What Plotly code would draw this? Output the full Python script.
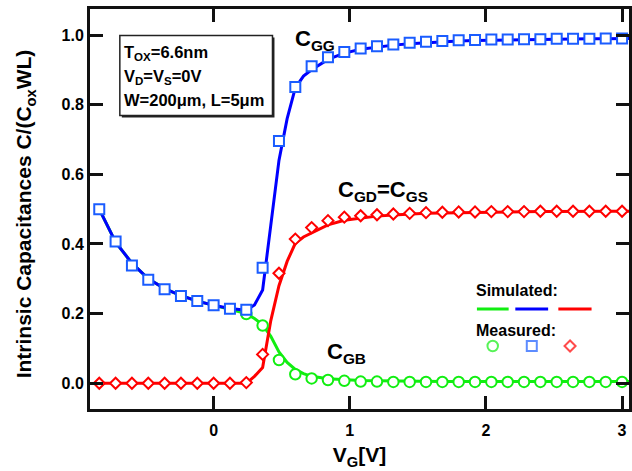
import plotly.graph_objects as go

# ---- measured data (step 0.12 V) ----
vg_meas = [-0.84, -0.72, -0.60, -0.48, -0.36, -0.24, -0.12, 0.00, 0.12, 0.24,
           0.36, 0.48, 0.60, 0.72, 0.84, 0.96, 1.08, 1.20, 1.32, 1.44, 1.56,
           1.68, 1.80, 1.92, 2.04, 2.16, 2.28, 2.40, 2.52, 2.64, 2.76, 2.88, 3.00]
cgg_meas = [0.500, 0.407, 0.338, 0.297, 0.270, 0.251, 0.236, 0.224, 0.214, 0.211,
            0.332, 0.696, 0.851, 0.910, 0.936, 0.951, 0.961, 0.968, 0.973, 0.978,
            0.981, 0.983, 0.985, 0.986, 0.987, 0.987, 0.988, 0.988, 0.989, 0.989,
            0.989, 0.990, 0.990]
cgd_meas = [0.000, 0.000, 0.000, 0.000, 0.000, 0.000, 0.000, 0.000, 0.000, 0.002,
            0.083, 0.316, 0.414, 0.447, 0.467, 0.477, 0.481, 0.484, 0.486, 0.488,
            0.490, 0.491, 0.492, 0.492, 0.493, 0.493, 0.493, 0.494, 0.494, 0.494,
            0.494, 0.494, 0.494]
vg_cgb_meas = vg_meas[9:]
cgb_meas = [0.199, 0.166, 0.067, 0.026, 0.014, 0.0095, 0.007, 0.005, 0.005, 0.004,
            0.004, 0.004, 0.004, 0.004, 0.004, 0.004, 0.004, 0.004, 0.004, 0.004,
            0.004, 0.004, 0.004, 0.004]

# ---- simulated data ----
vg_sim = [-0.84, -0.72, -0.60, -0.48, -0.36, -0.24, -0.12, 0.00, 0.12, 0.24,
          0.30, 0.36, 0.42, 0.48, 0.54, 0.60, 0.66, 0.72, 0.84, 0.96, 1.08,
          1.20, 1.32, 1.44, 1.56, 1.68, 1.80, 1.92, 2.04, 2.16, 2.28, 2.40,
          2.52, 2.64, 2.76, 2.88, 3.00, 3.06]
cgg_sim = [0.500, 0.405, 0.345, 0.300, 0.272, 0.252, 0.236, 0.224, 0.215, 0.210,
           0.225, 0.268, 0.454, 0.640, 0.760, 0.848, 0.882, 0.900, 0.930, 0.948,
           0.959, 0.966, 0.971, 0.975, 0.978, 0.981, 0.983, 0.984, 0.985, 0.986,
           0.987, 0.987, 0.988, 0.988, 0.989, 0.989, 0.990, 0.990]
cgb_sim = [0.500, 0.405, 0.345, 0.300, 0.272, 0.252, 0.236, 0.224, 0.213, 0.200,
           0.186, 0.168, 0.135, 0.090, 0.060, 0.040, 0.028, 0.020, 0.013, 0.010,
           0.008, 0.007, 0.006, 0.006, 0.005, 0.005, 0.005, 0.005, 0.005, 0.005,
           0.005, 0.005, 0.005, 0.005, 0.005, 0.005, 0.005, 0.005]
cgd_sim = [0.000, 0.000, 0.000, 0.000, 0.000, 0.000, 0.000, 0.000, 0.000, 0.000,
           0.020, 0.045, 0.180, 0.280, 0.350, 0.402, 0.420, 0.432, 0.455, 0.468,
           0.475, 0.480, 0.483, 0.486, 0.488, 0.489, 0.490, 0.491, 0.492, 0.492,
           0.493, 0.493, 0.493, 0.494, 0.494, 0.494, 0.494, 0.494]

# legend key positions (data units)
leg_marker_x = [2.05, 2.337, 2.618]
leg_marker_y = [0.107, 0.107, 0.107]

GREEN = "#11ee11"
BLUE_LINE = "#0000ff"
BLUE_MK = "#1a5cff"
RED = "#ff0000"
FONT = "Liberation Sans, Arial, sans-serif"

fig = go.Figure()
# simulated lines
fig.add_trace(go.Scatter(x=vg_sim, y=cgb_sim, mode="lines", line=dict(color=GREEN, width=3)))
fig.add_trace(go.Scatter(x=vg_sim, y=cgg_sim, mode="lines", line=dict(color=BLUE_LINE, width=3)))
fig.add_trace(go.Scatter(x=vg_sim, y=cgd_sim, mode="lines", line=dict(color=RED, width=3)))
# measured markers
fig.add_trace(go.Scatter(x=vg_cgb_meas, y=cgb_meas, mode="markers",
                         marker=dict(symbol="circle", size=10.5, color="white",
                                     line=dict(color=GREEN, width=2))))
fig.add_trace(go.Scatter(x=vg_meas, y=cgd_meas, mode="markers",
                         marker=dict(symbol="diamond", size=8.5, color="white",
                                     line=dict(color=RED, width=2))))
fig.add_trace(go.Scatter(x=vg_meas, y=cgg_meas, mode="markers",
                         marker=dict(symbol="square", size=10, color="white",
                                     line=dict(color=BLUE_MK, width=2))))
# legend key markers
fig.add_trace(go.Scatter(x=leg_marker_x, y=leg_marker_y, mode="markers",
                         marker=dict(symbol=["circle", "square", "diamond"],
                                     size=[10.5, 10, 8.5], color="white",
                                     line=dict(color=[GREEN, BLUE_MK, RED], width=2))))

# legend key lines
for (x0, x1, c) in [(1.934, 2.167, GREEN), (2.216, 2.457, BLUE_LINE), (2.532, 2.776, RED)]:
    fig.add_shape(type="line", xref="x", yref="y", x0=x0, x1=x1, y0=0.213, y1=0.213,
                  line=dict(color=c, width=3))

# info box with shadow
fig.add_shape(type="rect", xref="paper", yref="paper",
              x0=(122 - 90) / 542, x1=(275.5 - 90) / 542,
              y0=(409 - 117.5) / 400, y1=(409 - 37.5) / 400,
              line=dict(color="#222", width=0), fillcolor="#222", layer="above")
fig.add_shape(type="rect", xref="paper", yref="paper",
              x0=(120 - 90) / 542, x1=(273.5 - 90) / 542,
              y0=(409 - 115.5) / 400, y1=(409 - 35.5) / 400,
              line=dict(color="#222", width=1.5), fillcolor="white", layer="above")

def ann(text, x, y, size, xanchor="left", **kw):
    fig.add_annotation(text=text, x=x, y=y, xref="x", yref="y", showarrow=False,
                       xanchor=xanchor, yanchor="middle",
                       font=dict(family=FONT, size=size, color="black", weight="bold"), **kw)

def px2x(px):
    return (px - 214.3) / 136.9

def px2y(py):
    return (383.3 - py) / 348.3

ann("T<sub>OX</sub>=6.6nm", px2x(122), px2y(53), 16.5)
ann("V<sub>D</sub>=V<sub>S</sub>=0V", px2x(122), px2y(77), 16.5)
ann("W=200\u03bcm, L=5\u03bcm", px2x(122), px2y(100), 16.5)

ann("C<sub>GG</sub>", px2x(294), px2y(40), 22)
ann("C<sub>GD</sub>=C<sub>GS</sub>", px2x(337), px2y(191), 22)
ann("C<sub>GB</sub>", px2x(326), px2y(353), 22)

ann("Simulated:", px2x(476), px2y(290), 16)
ann("Measured:", px2x(476), px2y(330), 16)

# y-axis title as rotated annotation
fig.add_annotation(text="Intrinsic Capacitances C/(C<sub>ox</sub>WL)",
                   xref="paper", yref="paper",
                   x=(25 - 90) / 542, y=(409 - 214) / 400,
                   xanchor="center", yanchor="middle", textangle=-90, showarrow=False,
                   font=dict(family=FONT, size=21, color="black", weight="bold"))

axis_common = dict(showline=True, linewidth=3, linecolor="#111", mirror="ticks",
                   ticks="inside", ticklen=13, tickwidth=3, tickcolor="#111",
                   showgrid=False, zeroline=False,
                   tickfont=dict(family=FONT, size=16, color="black", weight="bold"))

fig.update_layout(
    width=632, height=471,
    margin=dict(l=90, r=0, t=9, b=62),
    paper_bgcolor="white", plot_bgcolor="white",
    showlegend=False,
    xaxis=dict(range=[-0.908, 3.051], tickvals=[0, 1, 2, 3], ticktext=["0", "1", "2", "3"],
               ticklabelstandoff=5,
               title=dict(text="V<sub>G</sub>[V]", standoff=10,
                          font=dict(family=FONT, size=21, color="black", weight="bold")),
               **axis_common),
    yaxis=dict(range=[-0.0738, 1.0747], tickvals=[0, 0.2, 0.4, 0.6, 0.8, 1.0],
               ticktext=["0.0", "0.2", "0.4", "0.6", "0.8", "1.0"],
               **axis_common),
)

fig.write_html("out.html")
